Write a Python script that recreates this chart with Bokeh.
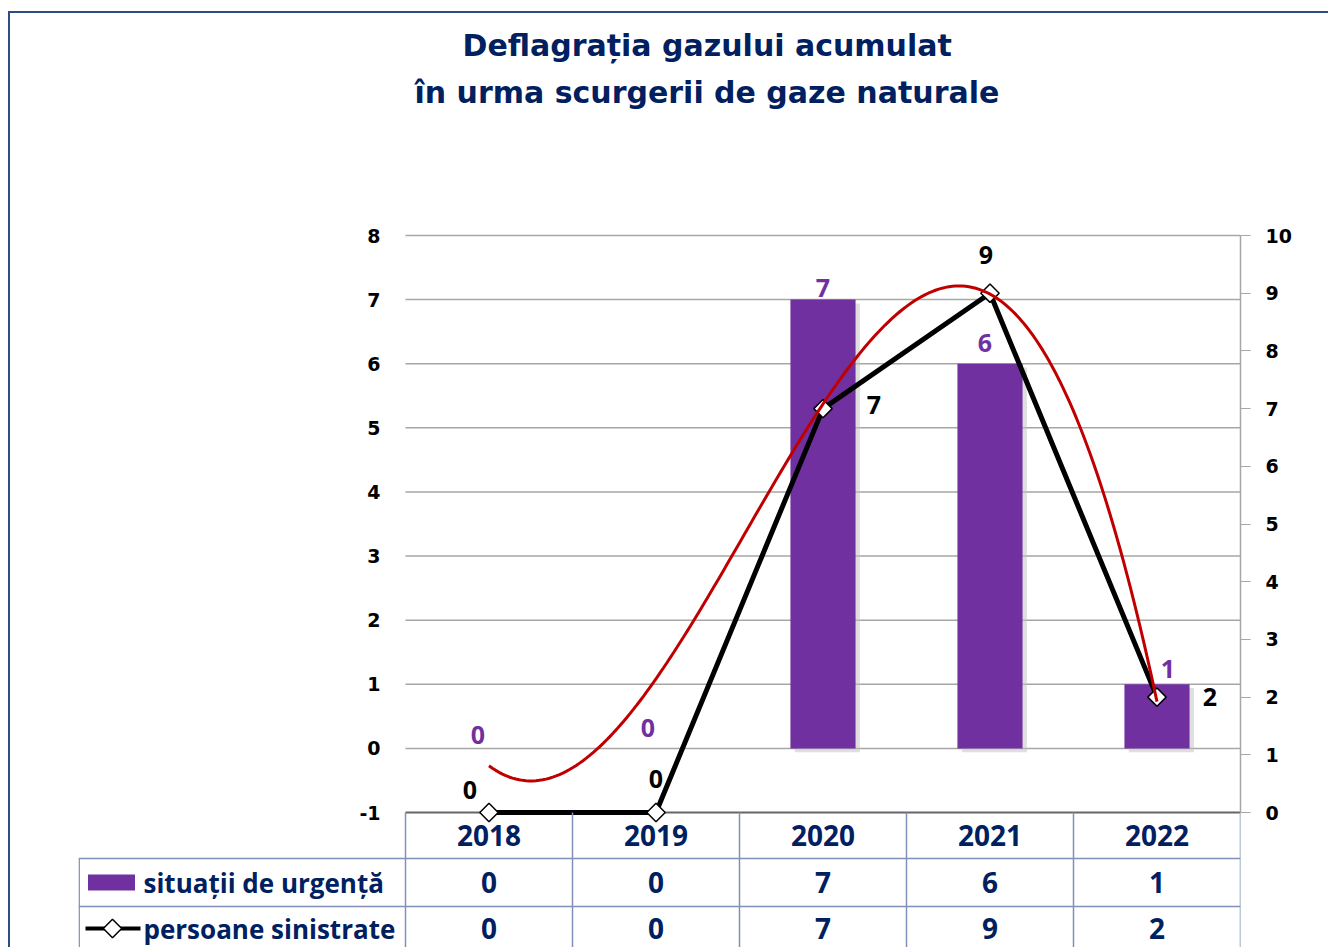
import numpy as np
from bokeh.plotting import figure
from bokeh.models import Range1d, LinearAxis, FixedTicker, Title, ColumnDataSource
from bokeh.core.properties import value
from bokeh.embed import file_html
from bokeh.resources import INLINE

# ---- data ----
years = ["2018", "2019", "2020", "2021", "2022"]
xpos = [1, 2, 3, 4, 5]
situatii = [0, 0, 7, 6, 1]
persoane = [0, 0, 7, 9, 2]
left_ticks = [-1, 0, 1, 2, 3, 4, 5, 6, 7, 8]
right_ticks = [0, 1, 2, 3, 4, 5, 6, 7, 8, 9, 10]
series_names = ["situații de urgență", "persoane sinistrate"]
title_lines = ["Deflagrația gazului acumulat", "în urma scurgerii de gaze naturale"]

PURPLE = "#7030A0"
NAVY = "#002060"
GRID = "#A6A6A6"
TABLE = "#8090B8"
FRAMECOL = "#2F4A8A"

W, H = 1328, 947
PLOT_T = 235                                 # pixel row of the top value (8 / 10)
FRAME_L, FRAME_R, FRAME_T = 78, 1240, 215    # frame edges (canvas px)
AXIS0 = 812                                  # pixel row of the category axis (-1 / 0)
px_x = (1240 - 405) / 5.0                    # px per category
x0 = 0.5 - (405 - FRAME_L) / px_x
ly_px = (AXIS0 - PLOT_T) / 9.0
ry_px = (AXIS0 - PLOT_T) / 10.0
below = H - AXIS0
above = PLOT_T - FRAME_T

p = figure(width=W, height=H,
           x_range=Range1d(x0, 5.5),
           y_range=Range1d(-1 - below / ly_px, 8 + above / ly_px),
           output_backend="svg", toolbar_location=None,
           x_axis_location=None, y_axis_location=None,
           min_border_left=FRAME_L, min_border_right=W - FRAME_R,
           min_border_top=FRAME_T, min_border_bottom=0)
p.title.visible = False
p.outline_line_color = None
p.grid.visible = False
p.background_fill_color = "white"
p.border_fill_color = None
# chart-area border (top and left edges) painted behind the transparent border area
p.styles = {
    "background": (f"linear-gradient({FRAMECOL},{FRAMECOL}) 9px 11px / 1319px 2px no-repeat, "
                   f"linear-gradient({FRAMECOL},{FRAMECOL}) 8px 11px / 2px 936px no-repeat, "
                   "white")
}

p.extra_y_ranges = {"r": Range1d(-below / ry_px, 10 + above / ry_px),
                    "t": Range1d(-below, AXIS0 - FRAME_T)}   # table rows in px from axis

# right axis (persoane sinistrate)
ra = LinearAxis(y_range_name="r", ticker=FixedTicker(ticks=right_ticks), bounds=(0, 10))
ra.axis_line_color = GRID
ra.axis_line_width = 1.5
ra.major_tick_line_color = GRID
ra.major_tick_out = 10
ra.major_tick_in = 0
ra.minor_tick_line_color = None
ra.major_label_standoff = 15
ra.major_label_text_font = "DejaVu Sans"
ra.major_label_text_font_style = "bold"
ra.major_label_text_font_size = "19px"
ra.major_label_text_color = "black"
p.add_layout(ra, "right")

# titles (stacked outward from the frame: spacer, line 2, line 1)
p.add_layout(Title(text=" ", standoff=63, text_font_size="29px"), "above")
p.add_layout(Title(text=title_lines[1], align="left", offset=336, standoff=18,
                   text_font="DejaVu Sans", text_font_style="bold", text_font_size="30px",
                   text_color=NAVY), "above")
p.add_layout(Title(text=title_lines[0], align="left", offset=384, standoff=2,
                   text_font="DejaVu Sans", text_font_style="bold", text_font_size="30px",
                   text_color=NAVY), "above")

# left value scale: gridlines and labels
p.segment(x0=[0.5] * 9, y0=left_ticks[1:], x1=[5.5] * 9, y1=left_ticks[1:],
          line_color=GRID, line_width=1.5)
p.segment(x0=[0.5], y0=[left_ticks[0]], x1=[5.5], y1=[left_ticks[0]],
          line_color="#666666", line_width=2)
p.text(x=[0.5] * len(left_ticks), y=left_ticks, text=[str(t) for t in left_ticks],
       x_offset=-25, text_align="right", text_baseline="middle",
       text_font=value("DejaVu Sans"), text_font_style="bold", text_font_size="19px",
       text_color="black")

src = ColumnDataSource(dict(x=xpos, s=situatii, p=persoane,
                            s_txt=[str(v) for v in situatii],
                            p_txt=[str(v) for v in persoane],
                            sdx=[-11, -8, 0, -5, 11], sdy=[-4, -11, -3, -12, -6],
                            dx=[-19, 0, 51, -4, 53], dy=[-23, -34, -4, -38, 0]))

# bar shadow + bars
p.vbar(x=[x + 0.026 for x in xpos], top=[v - 0.06 for v in situatii], bottom=-0.06,
       width=0.39, fill_color="#BFBFBF", fill_alpha=0.5, line_color=None)
p.vbar(x="x", top="s", bottom=0, width=0.39, source=src,
       fill_color=PURPLE, line_color=None)
p.text(x="x", y="s", text="s_txt", source=src, text_align="center",
       text_baseline="bottom", x_offset="sdx", y_offset="sdy",
       text_font=value("Open Sans"), text_font_style="bold", text_font_size="25px",
       text_color=PURPLE)

# persoane sinistrate line (right scale)
p.line(x="x", y="p", source=src, y_range_name="r", line_color="black", line_width=5)
p.scatter(x="x", y="p", source=src, y_range_name="r", marker="square", angle=np.pi / 4,
          size=13, fill_color="white", line_color="black", line_width=1.5)
p.text(x="x", y="p", text="p_txt", source=src, y_range_name="r",
       x_offset="dx", y_offset="dy", text_align="center", text_baseline="middle",
       text_font=value("Open Sans"), text_font_style="bold", text_font_size="25px",
       text_color="black")

# polynomial (order 3) trendline of the bar series
coef = np.polyfit(xpos, situatii, 3)
tx = np.linspace(xpos[0], xpos[-1], 200)
p.line(tx, np.polyval(coef, tx), line_color="#C00000", line_width=3)

# ---- data table ----
hdr_c, row_c = -23, [-70, -116]
p.text(x=xpos, y=[hdr_c] * 5, text=years, y_range_name="t",
       text_align="center", text_baseline="middle",
       text_font=value("Open Sans"), text_font_style="bold", text_font_size="28px",
       text_color=NAVY)
for ry, vals in zip(row_c, [situatii, persoane]):
    p.text(x=xpos, y=[ry] * 5, text=[str(v) for v in vals], y_range_name="t",
           text_align="center", text_baseline="middle",
           text_font=value("Open Sans"), text_font_style="bold", text_font_size="28px",
           text_color=NAVY)

lab_x = x0 + (143 - FRAME_L) / px_x
p.text(x=[lab_x, lab_x], y=row_c, text=series_names, y_range_name="t",
       text_align="left", text_baseline="middle",
       text_font=value("Open Sans"), text_font_style="bold", text_font_size="26px",
       text_color=NAVY)

# legend keys
kx = x0 + (111 - FRAME_L) / px_x
p.rect(x=[kx], y=[row_c[0]], width=47 / px_x, height=16, y_range_name="t",
       fill_color=PURPLE, line_color=None)
p.segment(x0=[x0 + 7 / px_x], y0=[row_c[1]], x1=[x0 + 62 / px_x], y1=[row_c[1]],
          y_range_name="t", line_color="black", line_width=4)
p.scatter(x=[kx + 1 / px_x], y=[row_c[1]], y_range_name="t", marker="square",
          angle=np.pi / 4, size=13, fill_color="white", line_color="black", line_width=1.5)

# table grid lines
vx = [0.5, 1.5, 2.5, 3.5, 4.5, 5.5]
p.segment(x0=vx, y0=[0] * 6, x1=vx, y1=[-below] * 6, y_range_name="t",
          line_color=TABLE, line_width=1.5)
p.segment(x0=[x0 + 0.004], y0=[-46], x1=[x0 + 0.004], y1=[-below], y_range_name="t",
          line_color=TABLE, line_width=1.5)
p.segment(x0=[x0, x0], y0=[-46, -94], x1=[5.5, 5.5], y1=[-46, -94], y_range_name="t",
          line_color=TABLE, line_width=1.5)

open("out.html", "w").write(file_html(p, INLINE))
